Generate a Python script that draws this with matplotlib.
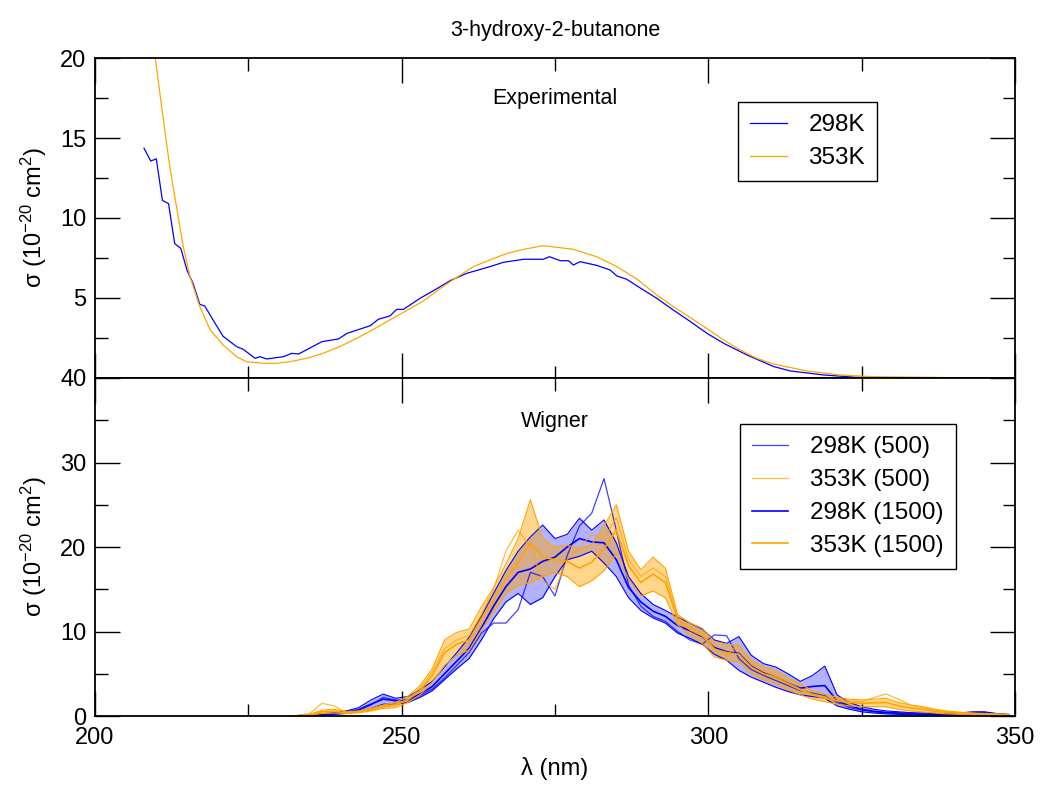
import numpy as np
import matplotlib.pyplot as plt

plt.rcParams['font.family'] = ['Liberation Sans', 'DejaVu Sans']
plt.rcParams['mathtext.default'] = 'regular'
plt.rcParams['axes.unicode_minus'] = False

# experimental spectra (nm, 1e-20 cm^2)
exp298_x = [208.0, 209.1, 210.0, 211.0, 212.0, 213.0, 214.0, 215.0, 216.0, 217.1, 217.9, 219.3,
            220.9, 223.1, 224.2, 226.1, 226.9, 228.0, 230.7, 232.1, 233.2, 237.0, 239.7, 241.1,
            244.9, 246.2, 248.1, 249.2, 250.3, 253.0, 255.2, 257.9, 260.6, 264.4, 266.6, 269.9,
            273.1, 274.1, 275.9, 277.2, 278.0, 279.1, 281.8, 284.0, 285.1, 286.7, 288.4, 291.6,
            294.3, 297.1, 299.8, 302.5, 306.3, 310.7, 313.4, 318.8, 324.2, 330.0]
exp298_y = [14.36, 13.56, 13.7, 11.1, 10.9, 8.4, 8.1, 6.75, 5.9, 4.6, 4.5, 3.6,
            2.6, 1.96, 1.79, 1.23, 1.33, 1.19, 1.33, 1.54, 1.5, 2.27, 2.44, 2.79,
            3.27, 3.67, 3.88, 4.29, 4.29, 4.98, 5.46, 6.08, 6.54, 6.96, 7.23, 7.42,
            7.42, 7.58, 7.33, 7.33, 7.06, 7.27, 7.04, 6.75, 6.38, 6.17, 5.75, 4.98,
            4.25, 3.52, 2.79, 2.17, 1.44, 0.71, 0.44, 0.19, 0.04, 0.02]

exp353_x = [209.0, 209.8, 211.1, 212.2, 213.3, 214.4, 215.5, 217.1, 218.8, 220.9, 223.1, 224.7,
            227.4, 229.6, 231.8, 234.5, 237.2, 239.9, 242.7, 245.4, 248.1, 250.8, 253.6, 256.3,
            259.0, 261.7, 264.4, 267.2, 269.9, 273.1, 275.3, 278.0, 281.8, 285.1, 288.4, 291.6,
            294.3, 297.1, 299.8, 302.5, 305.2, 307.9, 310.7, 316.1, 321.5, 326.9, 340.0]
exp353_y = [22.0, 20.08, 16.3, 13.2, 10.7, 8.2, 6.33, 4.46, 3.0, 2.06, 1.33, 1.02,
            0.92, 0.92, 1.02, 1.23, 1.54, 1.96, 2.48, 3.04, 3.63, 4.21, 4.83, 5.6,
            6.29, 6.96, 7.38, 7.79, 8.04, 8.27, 8.17, 8.04, 7.58, 6.96, 6.17, 5.19,
            4.46, 3.77, 3.08, 2.38, 1.75, 1.23, 0.87, 0.44, 0.19, 0.08, 0.02]

# Wigner spectra
wig_x = [231, 233, 235, 237, 239, 241, 243, 245, 247, 249, 251, 253, 255, 257, 259, 261, 263, 265,
         267, 269, 271, 273, 275, 277, 279, 281, 283, 285, 287, 289, 291, 293, 295, 297, 299, 301,
         303, 305, 307, 309, 311, 313, 315, 317, 319, 321, 323, 325, 327, 329, 331, 333, 335, 337,
         339, 341, 343, 345, 347, 349]

b1500_lo = [0, 0, 0.05, 0.1, 0.2, 0.3, 0.5, 0.9, 1.4, 1.4, 1.6, 2.2, 3.0, 4.3, 5.6, 6.8, 9.0, 11.5,
            13.5, 14.5, 13.2, 14.0, 16.5, 18.5, 18.9, 19.5, 18.1, 16.5, 14.0, 12.5, 11.6, 11.0, 9.8, 9.2, 8.5, 7.3,
            6.6, 5.4, 4.6, 4.0, 3.4, 2.9, 2.5, 2.3, 2.1, 1.2, 0.8, 0.5, 0.35, 0.25, 0.2, 0.15, 0.1, 0.1,
            0.1, 0.1, 0.15, 0.2, 0.1, 0.05]
b1500_hi = [0, 0.05, 0.15, 0.25, 0.4, 0.6, 1.0, 1.9, 2.6, 2.1, 2.3, 3.1, 4.1, 5.8, 7.5, 9.3, 11.8, 14.5,
            17.2, 19.5, 21.2, 22.6, 21.0, 21.5, 23.4, 22.0, 23.2, 20.5, 16.5, 14.5, 13.2, 12.5, 11.7, 11.0, 10.3, 9.0,
            8.6, 9.4, 7.2, 6.2, 5.8, 5.0, 4.1, 4.8, 5.9, 2.5, 1.6, 1.1, 0.8, 0.6, 0.5, 0.4, 0.35, 0.3,
            0.3, 0.35, 0.5, 0.5, 0.3, 0.2]
b1500_mid = [0, 0.02, 0.1, 0.18, 0.3, 0.45, 0.75, 1.4, 2.0, 1.8, 1.9, 2.6, 3.5, 5.0, 6.5, 8.0, 10.4, 13.0,
             15.3, 17.0, 17.4, 18.3, 18.8, 20.0, 21.0, 20.6, 20.5, 18.5, 15.2, 13.5, 12.4, 11.8, 10.7, 10.1, 9.4, 8.1,
             7.6, 7.4, 5.9, 5.1, 4.6, 3.9, 3.3, 3.5, 3.6, 1.8, 1.2, 0.8, 0.55, 0.42, 0.35, 0.28, 0.22, 0.2,
             0.2, 0.22, 0.32, 0.35, 0.2, 0.12]
b500 = [0, 0.02, 0.08, 0.15, 0.25, 0.4, 0.7, 1.3, 2.2, 1.9, 1.8, 2.4, 3.2, 4.5, 6.0, 7.5, 9.8, 11.0,
        11.0, 12.6, 17.0, 16.5, 14.2, 19.0, 22.5, 24.0, 28.1, 22.0, 15.5, 13.0, 11.8, 11.2, 10.0, 9.0, 8.5, 9.6,
        9.5, 6.8, 5.5, 4.8, 4.2, 3.6, 3.0, 2.7, 2.4, 1.6, 1.0, 0.7, 0.5, 0.4, 0.3, 0.25, 0.2, 0.2,
        0.2, 0.25, 0.4, 0.45, 0.25, 0.15]

o1500_lo = [0, 0.02, 0.1, 0.3, 0.35, 0.3, 0.4, 0.6, 0.9, 1.0, 1.6, 2.5, 4.0, 6.0, 7.2, 7.8, 10.2, 12.3,
            14.5, 15.5, 15.8, 16.5, 17.0, 16.5, 15.3, 16.0, 17.2, 19.2, 16.2, 14.2, 14.8, 14.0, 10.8, 9.5, 8.6, 7.0,
            6.6, 6.4, 5.0, 4.3, 3.8, 3.1, 2.5, 2.0, 1.7, 1.4, 1.2, 1.1, 1.1, 1.1, 0.8, 0.6, 0.5, 0.35,
            0.25, 0.2, 0.2, 0.15, 0.12, 0.1]
o1500_hi = [0, 0.05, 0.2, 0.7, 0.8, 0.5, 0.6, 0.9, 1.3, 1.6, 2.3, 3.6, 5.6, 9.0, 9.9, 10.3, 12.9, 15.2,
            18.0, 21.0, 25.6, 21.0, 20.0, 20.2, 19.8, 20.3, 22.5, 25.0, 19.5, 17.3, 18.8, 17.5, 12.0, 11.0, 10.4, 8.8,
            8.5, 8.3, 6.6, 5.8, 5.4, 4.5, 3.8, 3.0, 2.6, 2.2, 2.0, 1.9, 2.0, 2.1, 1.6, 1.3, 1.1, 0.8,
            0.6, 0.45, 0.35, 0.3, 0.25, 0.2]
o1500_mid = [0, 0.03, 0.15, 0.5, 0.55, 0.4, 0.5, 0.75, 1.1, 1.3, 1.9, 3.0, 4.8, 7.5, 8.5, 9.0, 11.5, 13.7,
             16.2, 18.2, 20.5, 18.8, 18.5, 18.3, 17.5, 18.2, 19.8, 22.0, 17.8, 15.8, 16.8, 15.8, 11.4, 10.2, 9.5, 7.9,
             7.5, 7.3, 5.8, 5.0, 4.6, 3.8, 3.1, 2.5, 2.1, 1.8, 1.6, 1.5, 1.55, 1.6, 1.2, 0.95, 0.8, 0.55,
             0.42, 0.32, 0.28, 0.22, 0.18, 0.15]
o500 = [0, 0.05, 0.3, 1.5, 1.2, 0.4, 0.5, 0.8, 1.2, 1.4, 2.0, 3.3, 5.2, 8.0, 9.0, 9.5, 12.0, 15.0,
        19.5, 22.0, 20.0, 16.0, 15.0, 18.5, 20.0, 21.5, 21.0, 23.5, 18.5, 16.5, 17.5, 16.5, 11.8, 10.5, 9.8, 8.0,
        7.2, 8.5, 6.2, 5.3, 4.8, 4.0, 3.2, 2.6, 2.3, 2.0, 1.8, 1.7, 2.2, 2.6, 2.0, 1.3, 1.0, 0.7,
        0.5, 0.4, 0.3, 0.25, 0.2, 0.15]

blue = '#0000ff'
orange = '#ffa500'

fig = plt.figure(figsize=(10.4, 7.87), dpi=100)
ax1 = fig.add_axes([0.0913, 0.5197, 0.8846, 0.4066])
ax2 = fig.add_axes([0.0913, 0.0902, 0.8846, 0.4295])

leg_kw = dict(loc='upper left', borderaxespad=0, fontsize=17.5, fancybox=False,
              edgecolor='black', framealpha=1, handlelength=1.5, handletextpad=0.9,
              borderpad=0.5, labelspacing=0.45)

# top panel
ax1.plot(exp298_x, exp298_y, color=blue, lw=0.9, label='298K')
ax1.plot(exp353_x, exp353_y, color=orange, lw=0.9, label='353K')
ax1.set_ylim(0, 20)
ax1.set_yticks([0, 5, 10, 15, 20])
ax1.set_yticklabels(['', '5', '10', '15', '20'])
ax1.text(0.5, 0.855, 'Experimental', transform=ax1.transAxes, ha='center', fontsize=15.5)
ax1.legend(bbox_to_anchor=(0.699, 0.8625), **leg_kw)
ax1.set_title('3-hydroxy-2-butanone', fontsize=15.5, pad=16)

# bottom panel
ax2.fill_between(wig_x, b1500_lo, b1500_hi, color=blue, alpha=0.3, lw=0)
ax2.plot(wig_x, b1500_lo, color=blue, lw=0.8)
ax2.plot(wig_x, b1500_hi, color=blue, lw=0.8)
l1 = ax2.plot(wig_x, b500, color=blue, lw=0.9, alpha=0.75)[0]
l3 = ax2.plot(wig_x, b1500_mid, color=blue, lw=1.2)[0]
ax2.fill_between(wig_x, o1500_lo, o1500_hi, color=orange, alpha=0.45, lw=0)
ax2.plot(wig_x, o1500_lo, color=orange, lw=0.8)
ax2.plot(wig_x, o1500_hi, color=orange, lw=0.8)
l2 = ax2.plot(wig_x, o500, color=orange, lw=0.9, alpha=0.75)[0]
l4 = ax2.plot(wig_x, o1500_mid, color=orange, lw=1.2)[0]
ax2.set_ylim(0, 40)
ax2.set_yticks([0, 10, 20, 30, 40])
ax2.text(0.5, 0.855, 'Wigner', transform=ax2.transAxes, ha='center', fontsize=15.5)
ax2.legend([l1, l2, l3, l4], ['298K (500)', '353K (500)', '298K (1500)', '353K (1500)'],
           bbox_to_anchor=(0.701, 0.864), **leg_kw)
ax2.set_xlabel('λ (nm)', fontsize=17, labelpad=6)

for ax in (ax1, ax2):
    ax.set_xlim(200, 350)
    ax.set_xticks([200, 250, 300, 350])
    ax.set_xticks([225, 275, 325], minor=True)
    ax.set_ylabel('σ (10$^{-20}$ cm$^{2}$)', fontsize=17)
    ax.yaxis.set_label_coords(-0.05, 0.5)
    ax.tick_params(which='both', direction='in', top=True, right=True, labelsize=17, width=1)
    ax.tick_params(which='major', length=18)
    ax.tick_params(which='minor', length=9)
    ax.tick_params(axis='x', pad=8)
    ax.tick_params(axis='y', pad=6)
    for s in ax.spines.values():
        s.set_linewidth(1.3)

ax1.set_yticks([2.5, 7.5, 12.5, 17.5], minor=True)
ax2.set_yticks([5, 15, 25, 35], minor=True)
ax1.tick_params(labelbottom=False)

fig.savefig('out.png', dpi=100)
